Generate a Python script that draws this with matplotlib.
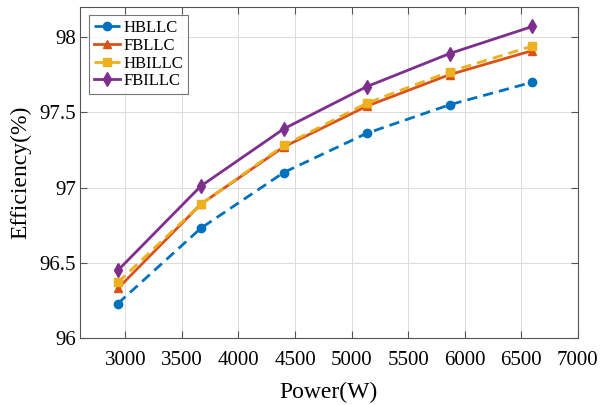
import matplotlib
matplotlib.use("Agg")
import matplotlib.pyplot as plt

power = [2933, 3667, 4400, 5133, 5867, 6600]
hbllc = [96.23, 96.73, 97.10, 97.36, 97.55, 97.70]
fbllc = [96.33, 96.89, 97.27, 97.54, 97.75, 97.91]
hbillc = [96.37, 96.89, 97.28, 97.56, 97.77, 97.94]
fbillc = [96.45, 97.01, 97.39, 97.67, 97.89, 98.07]

x_ticks = [3000, 3500, 4000, 4500, 5000, 5500, 6000, 6500, 7000]
y_ticks = [96, 96.5, 97, 97.5, 98]
y_labels = ['96', '96.5', '97', '97.5', '98']

plt.rcParams['font.family'] = ['Liberation Serif', 'DejaVu Serif']

fig = plt.figure(figsize=(6.03, 4.05), dpi=100)
ax = fig.add_axes([0.133, 0.165, 0.825, 0.818])

ax.plot(power, hbllc, '--o', color='#0072BD', lw=2, ms=6, dashes=(3.7, 2.2),
        label='HBLLC')
ax.plot(power, fbllc, '-^', color='#D95319', lw=2, ms=6, label='FBLLC')
ax.plot(power, hbillc, '--s', color='#EDB120', lw=2, ms=6, dashes=(3.7, 2.2),
        label='HBILLC')
ax.plot(power, fbillc, '-d', color='#7E2F8E', lw=2, ms=7, label='FBILLC')

ax.set_xlim(2600, 7000)
ax.set_ylim(96, 98.2)
ax.set_xticks(x_ticks)
ax.set_yticks(y_ticks)
ax.set_yticklabels(y_labels)
ax.grid(True, color='#dcdcdc', lw=0.7)
ax.set_axisbelow(True)
ax.tick_params(direction='in', top=True, right=True, labelsize=15, length=5,
               color='#555555')
ax.tick_params(axis='x', pad=9)
ax.tick_params(axis='y', pad=3)
for s in ax.spines.values():
    s.set_color('#555555')
    s.set_linewidth(0.8)

ax.set_xlabel('Power(W)', fontsize=17, labelpad=9)
ax.set_ylabel('Efficiency(%)', fontsize=17, labelpad=6)

leg = ax.legend(loc='upper left', fontsize=12, frameon=True, fancybox=False,
                edgecolor='#555555', handlelength=1.6, handletextpad=0.2,
                labelspacing=0.1, borderpad=0.3, borderaxespad=0.5)
leg.get_frame().set_linewidth(0.8)

fig.savefig('out.png', dpi=100)
